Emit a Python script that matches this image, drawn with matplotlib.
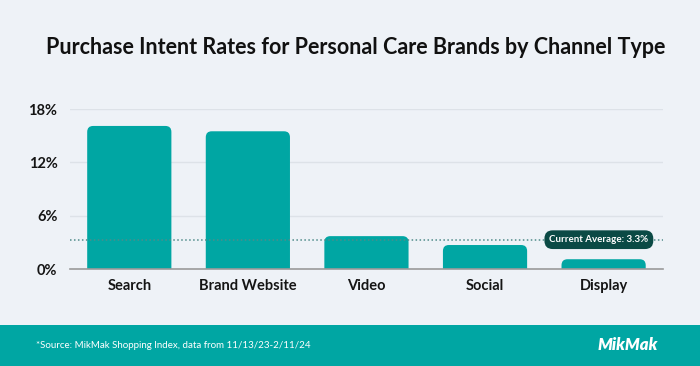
import matplotlib.pyplot as plt
from matplotlib.patches import FancyBboxPatch, Rectangle

channels = ["Search", "Brand Website", "Video", "Social", "Display"]
intent_rates = [16.1, 15.5, 3.7, 2.7, 1.1]
current_average = 3.3
y_ticks = [0, 6, 12, 18]

BG = "#eef2f7"
TEAL = "#00a6a3"
DARK = "#0b4a45"

plt.rcParams["font.family"] = ["Lato", "DejaVu Sans"]

fig = plt.figure(figsize=(7, 3.66), dpi=100)
fig.patch.set_facecolor(BG)
ax = fig.add_axes([0.1, 0.265, 0.847, 0.437])
ax.set_facecolor(BG)

x = range(len(channels))
bars = ax.bar(x, intent_rates, width=0.71, color=TEAL, zorder=3)

# swap plain bars for ones with rounded top corners
for b in bars:
    x0, w, h = b.get_x(), b.get_width(), b.get_height()
    b.set_visible(False)
    p = FancyBboxPatch((x0, -1), w, h + 1,
                       boxstyle="round,pad=0,rounding_size=0.05",
                       mutation_aspect=13.5, fc=TEAL, ec="none", zorder=3)
    ax.add_patch(p)

ax.set_xlim(-0.5, 4.5)
ax.set_ylim(0, 18)
ax.set_yticks(y_ticks)
ax.set_yticklabels([f"{t}%" for t in y_ticks], fontsize=10.5, fontweight="bold",
                   color="#151515")
ax.set_xticks(list(x))
ax.set_xticklabels(channels, fontsize=10.5, fontweight="bold", color="#151515")
ax.tick_params(length=0, pad=7)
ax.tick_params(axis="y", pad=9)
ax.grid(axis="y", color="#dde2e8", lw=1, zorder=0)
for s in ["top", "right", "left"]:
    ax.spines[s].set_visible(False)
ax.spines["bottom"].set_color("#9a9a9a")
ax.spines["bottom"].set_linewidth(1.2)
ax.spines["bottom"].set_zorder(4)

ax.axhline(current_average, color="#4f8c8a", lw=1.1, ls=(0, (1, 1.6)), zorder=4)
ax.text(3.96, current_average, f"Current Average: {current_average}%",
        ha="center", va="center", fontsize=7, fontweight="bold", color="white",
        zorder=6,
        bbox=dict(boxstyle="round,pad=0.5,rounding_size=0.85", fc=DARK, ec="none"))

fig.text(0.508, 0.87, "Purchase Intent Rates for Personal Care Brands by Channel Type",
         ha="center", va="center", fontsize=15.5, fontweight="bold", color="#111111")

# footer band
fig.patches.append(Rectangle((0, 0), 1, 41 / 366, transform=fig.transFigure,
                             fc=TEAL, ec="none", zorder=0))
fig.text(0.052, 0.057, "*Source: MikMak Shopping Index, data from 11/13/23-2/11/24",
         ha="left", va="center", fontsize=7, color="white")
fig.text(0.94, 0.057, "MikMak", ha="right", va="center", fontsize=12,
         fontweight="heavy", style="italic", color="white")

fig.savefig("out.png", dpi=100, facecolor=BG)
